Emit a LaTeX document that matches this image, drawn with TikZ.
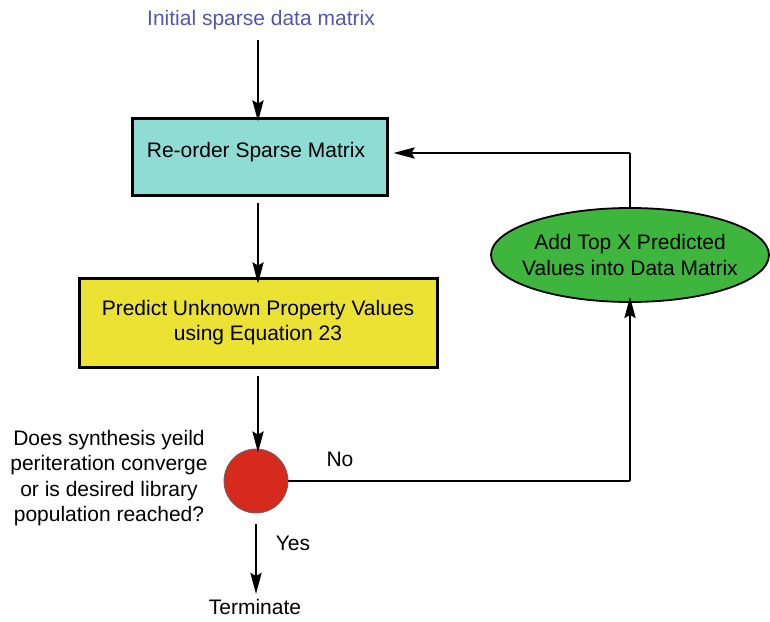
\documentclass[tikz,border=0pt]{standalone}
\usepackage{fontspec}
\setmainfont{Liberation Sans}
\usetikzlibrary{arrows.meta,shapes.geometric}
\definecolor{titleblue}{RGB}{85,85,175}
\definecolor{teal1}{RGB}{142,220,212}
\definecolor{yel1}{RGB}{236,226,52}
\definecolor{grn1}{RGB}{62,182,62}
\definecolor{red1}{RGB}{214,42,30}
\begin{document}
\begin{tikzpicture}[x=1pt,y=-1pt,
  font=\fontsize{21}{25.5}\selectfont,
  arr/.style={line width=2.8pt,-{Stealth[length=21pt,width=11pt,inset=3pt]}},
  ln/.style={line width=2.8pt},
  boxa/.style={draw=black,line width=3pt,fill=teal1,minimum width=255pt,minimum height=77pt,inner sep=0pt},
  boxb/.style={draw=black,line width=3pt,fill=yel1,minimum width=358pt,minimum height=89pt,inner sep=0pt,align=center},
  ell/.style={ellipse,draw=black,line width=1.8pt,fill=grn1,minimum width=278pt,minimum height=94pt,inner sep=0pt},
  dec/.style={circle,draw=black!60,line width=0.8pt,fill=red1,minimum size=64pt,inner sep=0pt},
  lbl/.style={inner sep=0pt,align=center}]
\useasboundingbox (0,0) rectangle (770,621);
\node[lbl,text=titleblue] (title) at (261,20) {Initial sparse data matrix};
\node[boxa] (reorder) at (259.5,156.5) {};
\node[lbl] (reordert) at (256,152) {Re-order Sparse Matrix};
\node[boxb] (predict) at (258,322.5) {Predict Unknown Property Values\\using Equation 23};
\node[dec] (dec) at (256,481) {};
\node[ell] (add) at (630,255) {};
\node[lbl] (addt) at (630,255) {Add Top X Predicted\\Values into Data Matrix};
\node[lbl] (question) at (109,478) {Does synthesis yeild\\periteration converge\\or is desired library\\population reached?};
\node[lbl] (term) at (255,607) {Terminate};
\node[lbl] (yes) at (293,543) {Yes};
\node[lbl] (no) at (340,459) {No};
\coordinate (c1) at (630,481);
\coordinate (c2) at (630,153);
\coordinate (t0) at (258,40);
\coordinate (r0) at (258,203);
\coordinate (p0) at (258,376);
\coordinate (d0) at (256,524);
\coordinate (d1) at (256,594);
\draw[arr] (t0) -- ([yshift=-5pt]reorder.north -| t0);
\draw[arr] (r0) -- ([yshift=-7pt]predict.north -| r0);
\draw[arr] (p0) -- ([yshift=-4pt]dec.north -| p0);
\draw[arr] (d0) -- (d1);
\draw[ln] (dec.east) -- (c1);
\draw[arr] (c1) -- ([yshift=6pt]add.south);
\draw[ln] (add.north) -- (c2);
\draw[arr] (c2) -- ([xshift=5pt]reorder.east |- c2);
\end{tikzpicture}
\end{document}
